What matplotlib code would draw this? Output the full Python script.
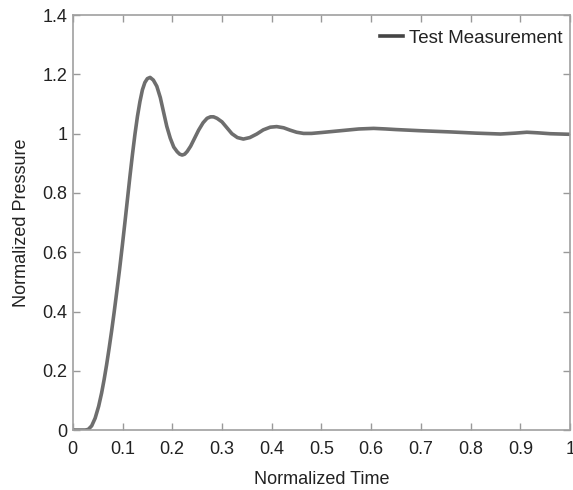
import matplotlib
matplotlib.use("Agg")
import matplotlib.pyplot as plt
from matplotlib.lines import Line2D

# values
time = [0.0, 0.025, 0.031, 0.038, 0.045, 0.052, 0.058, 0.063, 0.068, 0.073,
        0.078, 0.083, 0.0885, 0.094, 0.0998, 0.105, 0.11, 0.115, 0.12, 0.125,
        0.13, 0.135, 0.14, 0.145, 0.15, 0.1555, 0.162, 0.169, 0.176, 0.182,
        0.189, 0.196, 0.203, 0.21, 0.215, 0.22, 0.225, 0.23, 0.237, 0.245,
        0.253, 0.262, 0.27, 0.277, 0.283, 0.29, 0.3, 0.31, 0.32, 0.331,
        0.343, 0.356, 0.37, 0.383, 0.397, 0.41, 0.424, 0.437, 0.45, 0.464,
        0.48, 0.5, 0.525, 0.55, 0.575, 0.605, 0.63, 0.65, 0.7, 0.76,
        0.81, 0.86, 0.89, 0.913, 0.935, 0.96, 1.0]
pressure = [0.0, 0.0, 0.002, 0.014, 0.04, 0.08, 0.125, 0.17, 0.22, 0.275,
            0.333, 0.395, 0.467, 0.541, 0.625, 0.703, 0.78, 0.857, 0.93, 0.998,
            1.058, 1.108, 1.148, 1.173, 1.186, 1.19, 1.181, 1.16, 1.122, 1.077,
            1.025, 0.985, 0.955, 0.939, 0.931, 0.928, 0.931, 0.94, 0.958, 0.985,
            1.012, 1.037, 1.052, 1.057, 1.057, 1.052, 1.04, 1.02, 1.0, 0.987,
            0.982, 0.987, 0.999, 1.013, 1.022, 1.024, 1.02, 1.012, 1.005, 1.001,
            1.001, 1.004, 1.008, 1.012, 1.016, 1.018, 1.016, 1.014, 1.01, 1.006,
            1.002, 0.999, 1.002, 1.005, 1.003, 1.0, 0.998]

xticks = [0, 0.1, 0.2, 0.3, 0.4, 0.5, 0.6, 0.7, 0.8, 0.9, 1]
xlabels = ["0", "0.1", "0.2", "0.3", "0.4", "0.5", "0.6", "0.7", "0.8", "0.9", "1"]
yticks = [0, 0.2, 0.4, 0.6, 0.8, 1, 1.2, 1.4]
ylabels = ["0", "0.2", "0.4", "0.6", "0.8", "1", "1.2", "1.4"]

plt.rcParams["font.family"] = ["Liberation Sans", "DejaVu Sans"]

fig = plt.figure(figsize=(5.73, 4.9), dpi=100)
ax = fig.add_axes([0.127, 0.1224, 0.868, 0.8466])

ax.plot(time, pressure, color="#6e6e6e", linewidth=2.6,
        solid_capstyle="round", solid_joinstyle="round")

ax.set_xlim(0, 1)
ax.set_ylim(0, 1.4)
ax.set_xticks(xticks)
ax.set_xticklabels(xlabels)
ax.set_yticks(yticks)
ax.set_yticklabels(ylabels)
ax.tick_params(direction="in", top=True, right=True, length=5, width=1,
               color="#999999", labelsize=13, labelcolor="#222222")
ax.tick_params(axis="x", pad=8)
ax.tick_params(axis="y", pad=4)
for sp in ax.spines.values():
    sp.set_color("#a0a0a0")
    sp.set_linewidth(1.2)

ax.set_xlabel("Normalized Time", fontsize=13, color="#222222", labelpad=9)
ax.set_ylabel("Normalized Pressure", fontsize=13, color="#222222", labelpad=9)

handle = Line2D([], [], color="#444444", linewidth=2.6)
ax.legend([handle], ["Test Measurement"], loc="upper right", frameon=False,
          fontsize=13.5, handlelength=1.25, handletextpad=0.32,
          borderaxespad=0, bbox_to_anchor=(1.0, 0.983), labelcolor="#222222")

fig.savefig("out.png", dpi=100)
